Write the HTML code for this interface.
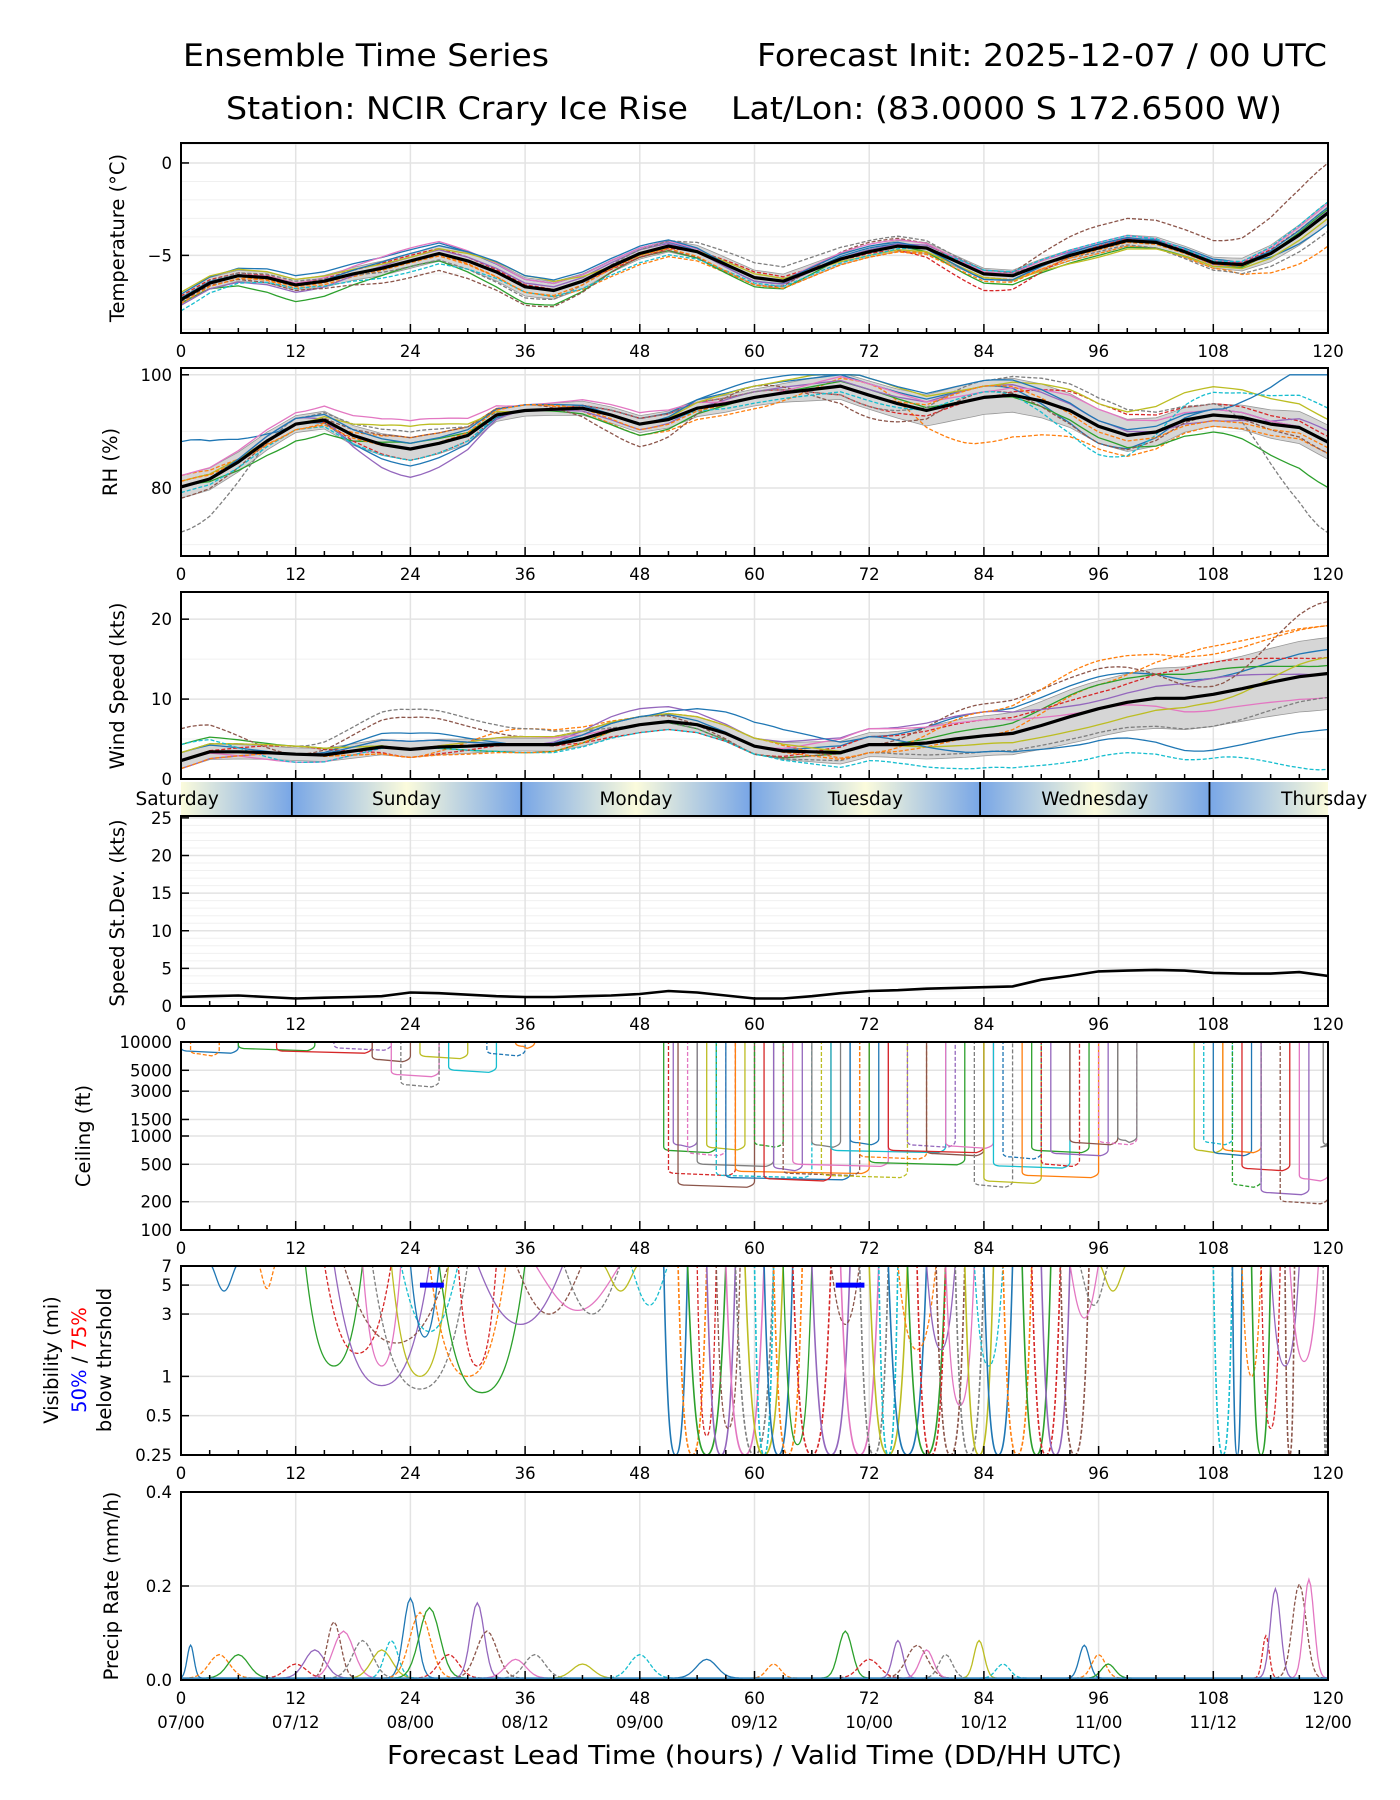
<!DOCTYPE html>
<html><head><meta charset="utf-8"><title>Ensemble Time Series</title>
<style>
html,body{margin:0;padding:0;background:#fff;}
svg{display:block;font-family:"DejaVu Sans","Liberation Sans",sans-serif;}
</style></head>
<body>
<svg id="chart" width="1400" height="1800" viewBox="0 0 1400 1800" xmlns="http://www.w3.org/2000/svg">
<defs>
<linearGradient id="dayGrad" x1="0" x2="1" y1="0" y2="0">
<stop offset="0" stop-color="#78a6e6"/><stop offset="0.5" stop-color="#fbfbdc"/><stop offset="1" stop-color="#78a6e6"/>
</linearGradient>
<linearGradient id="dayGradHalfL" x1="0" x2="1" y1="0" y2="0">
<stop offset="0" stop-color="#fbfbdc"/><stop offset="1" stop-color="#78a6e6"/>
</linearGradient>
<linearGradient id="dayGradHalfR" x1="0" x2="1" y1="0" y2="0">
<stop offset="0" stop-color="#78a6e6"/><stop offset="1" stop-color="#fbfbdc"/>
</linearGradient>
</defs>
<text x="183" y="66" font-size="31" textLength="366" lengthAdjust="spacingAndGlyphs">Ensemble Time Series</text>
<text x="757" y="66" font-size="31" textLength="570" lengthAdjust="spacingAndGlyphs">Forecast Init: 2025-12-07 / 00 UTC</text>
<text x="226" y="119" font-size="31" textLength="462" lengthAdjust="spacingAndGlyphs">Station: NCIR Crary Ice Rise</text>
<text x="731" y="119" font-size="31" textLength="551" lengthAdjust="spacingAndGlyphs">Lat/Lon: (83.0000 S 172.6500 W)</text>
<text x="387" y="1764" font-size="26" textLength="735" lengthAdjust="spacingAndGlyphs">Forecast Lead Time (hours) / Valid Time (DD/HH UTC)</text>
<g id="plots"></g>
</svg>
<script>
// ---------------- DATA ----------------
const hours3 = [0,3,6,9,12,15,18,21,24,27,30,33,36,39,42,45,48,51,54,57,60,63,66,69,72,75,78,81,84,87,90,93,96,99,102,105,108,111,114,117,120];
const hours12 = [0,12,24,36,48,60,72,84,96,108,120];
const tempMean = [-7.4,-6.5,-6.1,-6.2,-6.6,-6.4,-6.0,-5.7,-5.3,-4.9,-5.3,-5.9,-6.7,-6.9,-6.4,-5.6,-4.9,-4.5,-4.8,-5.5,-6.2,-6.4,-5.8,-5.2,-4.8,-4.5,-4.6,-5.3,-6.0,-6.1,-5.5,-5.0,-4.6,-4.2,-4.3,-4.8,-5.4,-5.5,-4.9,-3.9,-2.7];
const tempSpread = [0.3,0.3,0.4,0.5,0.3,0.4,0.3,0.3,0.3,0.3,0.6];
const tempOffsets = [
[0.3,0.5,0.6,0.4,0.3,-0.2,0.2,-0.3,0.1,0.2,-0.6],
[0.1,-0.2,-0.1,-0.3,-0.6,-0.4,-0.3,-0.2,-0.3,-0.3,-1.8],
[-0.2,-0.9,-0.3,-0.9,-0.2,-0.5,0.1,-0.5,-0.4,-0.2,0.2],
[0.2,0.1,0.3,0.1,-0.2,0.3,-0.1,-0.9,0.1,0.1,0.3],
[-0.3,-0.4,0.2,0.2,0.2,-0.2,0.1,0.2,0.2,-0.1,0.1],
[-0.1,-0.3,-0.9,-1.0,-0.2,-0.4,0.5,0.0,1.2,1.2,2.7],
[0.0,0.1,0.7,0.4,0.3,0.0,0.4,0.1,0.3,0.1,0.5],
[0.1,0.2,-0.3,-0.6,0.2,0.8,0.6,0.2,-0.2,-0.4,-1.0],
[0.4,0.3,0.2,0.6,-0.1,0.2,-0.2,-0.2,-0.5,-0.2,-0.3],
[-0.6,-0.2,-0.6,-0.3,-0.5,-0.3,-0.2,0.2,0.3,0.1,0.6],
[0.1,0.0,0.4,0.6,0.4,0.0,0.3,-0.3,0.2,0.0,0.3],
[-0.2,-0.1,0.0,-0.3,-0.1,-0.4,-0.3,-0.4,-0.1,-0.1,0.0]];
const rhMean = [80.2,81.6,84.6,88.3,91.3,92.0,89.3,87.7,86.9,87.9,89.3,92.9,93.7,93.9,94.1,92.9,91.3,92.1,94.1,94.9,96.0,96.8,97.4,98.0,96.4,94.9,93.7,94.9,96.0,96.4,95.4,93.7,90.9,89.3,89.9,92.0,92.9,92.5,91.3,90.7,88.1];
const rhSpread = [2,1.5,2,1,1.5,1.5,2.5,3,3,2,3];
const rhOffsets = [
[8,0,-3,0,1,2,2,2,-3,1,0],
[2,-1,2,1,-2,-2,2,-8,-4,-2,-2],
[0,-3,1,0,-2,0,1,0,-2,-3,-8],
[1,0,-2,0,1,1,-2,0,4,2,1],
[0,1,-5,0,-1,1,1,2,1,-1,2],
[-2,0,2,1,-4,2,-4,1,-3,0,-2],
[2,2,5,1,2,0,2,1,3,1,0],
[-8,1,3,0,1,1,-2,3,5,2,-16],
[1,0,4,0,0,2,3,2,4,5,4],
[-1,-1,-2,0,0,-1,-1,1,-5,4,6],
[0,1,1,1,0,3,3,3,1,1,12],
[1,-1,0,1,-1,0,0,2,-1,-1,-1]];
const windMean = [2.3,3.4,3.4,3.3,3.1,3.0,3.5,4.0,3.7,4.0,4.1,4.3,4.3,4.3,5.0,6.1,6.8,7.2,6.8,5.7,4.1,3.5,3.4,3.3,4.3,4.3,4.5,5.0,5.4,5.7,6.7,7.8,8.8,9.6,10.1,10.1,10.6,11.3,12.1,12.8,13.2];
const windSpread = [1,0.8,1,0.8,1,1,1.5,2.5,3.5,4,4.5];
const windOffsets = [
[1,0,2,0,1,0,1,3,4,2,3],
[0,0,-1,2,1,1,-1,0,3,6,6],
[2,1,0,-1,0,-1,0,1,3,3,1],
[0,1,-1,0,-1,-1,1,2,2,4,2],
[-1,0,1,0,2,1,2,3,1,2,0],
[4,0,4,1,1,-1,0,4,5,1,9],
[0,-1,0,1,0,0,2,2,0,-2,-3],
[1,1,5,2,0,-1,-1,-2,-3,-4,-3],
[1,1,0,1,1,1,0,-1,-2,-1,2],
[2,-1,0,-1,-1,-1,-2,-4,-6,-8,-12],
[0,0,1,0,1,3,1,-2,-4,-7,-7],
[-1,0,-1,-1,0,0,-1,3,6,5,6]];
const stdDev = [1.2,1.3,1.4,1.2,1.0,1.1,1.2,1.3,1.8,1.7,1.5,1.3,1.2,1.2,1.3,1.4,1.6,2.0,1.8,1.4,1.0,1.0,1.3,1.7,2.0,2.1,2.3,2.4,2.5,2.6,3.5,4.0,4.6,4.7,4.8,4.7,4.4,4.3,4.3,4.5,4.0];
const dayNames = ["Saturday","Sunday","Monday","Tuesday","Wednesday","Thursday"];
const dayBoundaries = [-12.4,11.6,35.6,59.6,83.6,107.6,131.6];
const cigStart = [0,1,6,10,16,20,22,23,25,28,32,35, 50.5,51,51.5,52,53,54,55,56,57,58,60,61,62,63,64,66,67,68,70,71,72,74,76,78,80,83,84,85,86,88,89,90,91,93,96,98, 106,107,108,109,110,111,113,115,117,119.5];
const cigEnd   = [6,4,14,20,22,24,27,27,30,33,36,37, 56,58,54,60,57,62,59,66,70,72,63,68,65,71,74,69,76,80,73,78,82,84,81,84,85,87,90,93,90,96,95,94,97,98,100,100, 109,110,112,113,113,116,118,120,120,120];
const cigLevel = [8000,7500,8500,8000,8600,6500,4500,3500,7000,5000,7500,9000, 700,400,800,300,650,500,750,380,360,420,800,350,450,400,500,800,380,700,850,600,520,700,800,650,780,300,330,480,600,380,700,500,650,850,850,900, 700,850,650,700,300,450,250,200,350,800];
const visStart = [3,8,13,15,16,17,19,20,22,23,24,26,27,29,31,35,37,40,44,47, 50.5,52,53,54,55,56,57,58,59,60,61,62,63,64,66,68,69,71,72,73,74,75,76,77,78,79,80,81,82,83,84,86,88,89,90,92,93,94,96, 108,110,111,112,113,114,115.5,116,119.5];
const visEnd   = [6,10,19,22,26,28,23,30,28,29,27,34,36,33,40,42,46,46,48,51, 53,55,57,56,58,58.5,61,62,63,62,64,65,66,68,70,71,73,74,76,75,78,79,80,80,81,82,83,84,85,86,87,89,91,92,93,95,96,97,99, 110,111,113,114,115,117,116.5,119,120];
const visMin   = [4.5,4.7,1.2,1.5,0.85,1.8,1.2,0.8,1.0,2.2,2.0,1.0,0.75,1.2,2.5,3.0,3.2,3.0,4.5,3.5, 0.25,0.25,0.25,0.35,0.25,0.4,0.25,0.25,0.25,0.25,0.25,0.25,0.3,0.25,0.25,2.5,0.25,0.25,0.25,0.25,0.25,1.6,0.25,0.25,1.6,0.25,0.6,0.25,0.25,1.2,0.25,0.25,0.25,0.25,0.25,0.25,2.8,3.5,4.5, 0.25,0.25,1.0,0.25,0.4,1.2,0.25,1.3,0.25];
const visThreshStart = [25,68.5];
const visThreshEnd = [27.5,71.5];
const visThreshValue = [5,5];
const precipCenter = [1,4,6,12,14,16,17,19,21,22,24,25,26,28,31,32,35,37,42,48,55,62,69.5,72,75,77,78,80,83.5,86,94.5,96,97,113.5,114.5,117,118];
const precipWidth  = [1,3,3,3,3,2,3,3,3,2,2,3,3,3,2,3,3,3,3,3,3,2,2,3,1.5,3,2,2,1.5,2,1.5,2,2,1,1.5,2,1.5];
const precipPeak   = [0.07,0.05,0.05,0.03,0.06,0.12,0.1,0.08,0.06,0.08,0.17,0.14,0.15,0.05,0.16,0.1,0.04,0.05,0.03,0.05,0.04,0.03,0.1,0.04,0.08,0.07,0.06,0.05,0.08,0.03,0.07,0.05,0.03,0.09,0.19,0.2,0.21];
const hourTicks = [0,12,24,36,48,60,72,84,96,108,120];
const dateTicks = ["07/00","07/12","08/00","08/12","09/00","09/12","10/00","10/12","11/00","11/12","12/00"];

// ---------------- RENDER ----------------
const NS = "http://www.w3.org/2000/svg";
const COLORS = ["#1f77b4","#ff7f0e","#2ca02c","#d62728","#9467bd","#8c564b","#e377c2","#7f7f7f","#bcbd22","#17becf"];
const root = document.getElementById("plots");
const X0 = 181, X1 = 1328;
const xs = h => X0 + h * (X1 - X0) / 120;
function mk(tag, attrs, parent) {
  const e = document.createElementNS(NS, tag);
  for (const k in attrs) e.setAttribute(k, attrs[k]);
  (parent || root).appendChild(e);
  return e;
}
function interp(xsArr, ysArr, x) {
  if (x <= xsArr[0]) return ysArr[0];
  for (let i = 1; i < xsArr.length; i++) {
    if (x <= xsArr[i]) {
      const t = (x - xsArr[i-1]) / (xsArr[i] - xsArr[i-1]);
      const s = t * t * (3 - 2 * t);
      return ysArr[i-1] + (ysArr[i] - ysArr[i-1]) * (xsArr === hours12 ? s : t);
    }
  }
  return ysArr[ysArr.length - 1];
}
function linY(top, bot, lo, hi) { return v => bot - (v - lo) / (hi - lo) * (bot - top); }
function logY(top, bot, lo, hi) { return v => bot - (Math.log10(v) - Math.log10(lo)) / (Math.log10(hi) - Math.log10(lo)) * (bot - top); }

let clipN = 0;
function panel(name, top, bot, ys, yTicks, yLabels, minorY, noXLabels) {
  const g = mk("g", {});
  
  
  const cid = "clip" + (clipN++);
  const cp = mk("clipPath", {id: cid}, g);
  mk("rect", {x: X0, y: top, width: X1 - X0, height: bot - top}, cp);
  (minorY || []).forEach(v => {
    const ln = mk("line", {x1: X0, x2: X1, y1: ys(v), y2: ys(v), stroke: "#f0f0f0", "stroke-width": 1}, g);
    
    
  });
  hourTicks.forEach(h => {
    const ln = mk("line", {x1: xs(h), x2: xs(h), y1: top, y2: bot, stroke: "#e3e3e3", "stroke-width": 1.5}, g);
    
    
  });
  yTicks.forEach((v, i) => {
    const y = ys(v);
    const ln = mk("line", {x1: X0, x2: X1, y1: y, y2: y, stroke: "#e3e3e3", "stroke-width": 1.5}, g);
    
    
    const tk = mk("line", {x1: X0, x2: X0 + 8, y1: y, y2: y, stroke: "#000", "stroke-width": 1.5}, g);
    
    
    const t = mk("text", {x: X0 - 9, y: y + 6, "font-size": 16.5, "text-anchor": "end"}, g);
    t.textContent = yLabels[i];
    
    
  });
  const data = mk("g", {"clip-path": "url(#" + cid + ")"}, g);
  
  
  for (let h = 0; h <= 120; h += 3) {
    const major = h % 12 === 0;
    const tk = mk("line", {x1: xs(h), x2: xs(h), y1: bot, y2: bot - (major ? 9 : 5), stroke: "#000", "stroke-width": 1.5}, g);
    
    
  }
  if (!noXLabels) {
    hourTicks.forEach(h => {
      const t = mk("text", {x: xs(h), y: bot + 24, "font-size": 16.5, "text-anchor": "middle"}, g);
      t.textContent = String(h);
      
      
    });
  }
  const fr = mk("rect", {x: X0, y: top, width: X1 - X0, height: bot - top, fill: "none", stroke: "#000", "stroke-width": 2}, g);
  
  
  return {g, data};
}
function ylabel(g, name, x, cy, text, size) {
  const t = mk("text", {x: 0, y: 0, "font-size": size || 19.5, "text-anchor": "middle", transform: "translate(" + x + "," + cy + ") rotate(-90)"}, g);
  t.textContent = text;
  
  
  return t;
}
function ensemblePanel(name, top, bot, ys, mean, spread, offsets, clampLo, clampHi) {
  return function (p) {
    let up = "", dn = "";
    for (let h = 0; h <= 120; h += 1) {
      const m = interp(hours3, mean, h), s = interp(hours12, spread, h);
      up += (h ? "L" : "M") + xs(h).toFixed(1) + "," + ys(Math.min(clampHi, m + s)).toFixed(1);
    }
    for (let h = 120; h >= 0; h -= 1) {
      const m = interp(hours3, mean, h), s = interp(hours12, spread, h);
      dn += "L" + xs(h).toFixed(1) + "," + ys(Math.max(clampLo, m - s)).toFixed(1);
    }
    const band = mk("path", {d: up + dn + "Z", fill: "#d6d6d6", stroke: "#999", "stroke-width": 0.8}, p.data);
    
    
    offsets.forEach((off, i) => {
      let d = "";
      for (let h = 0; h <= 120; h += 1) {
        const v = Math.max(clampLo, Math.min(clampHi, interp(hours3, mean, h) + interp(hours12, off, h)));
        d += (h ? "L" : "M") + xs(h).toFixed(1) + "," + ys(v).toFixed(1);
      }
      const ln = mk("path", {d, fill: "none", stroke: COLORS[i % 10], "stroke-width": 1.3, "stroke-dasharray": i % 2 ? "4,2" : "none"}, p.data);
      
      
    });
    let d = "";
    hours3.forEach((h, i) => { d += (i ? "L" : "M") + xs(h).toFixed(1) + "," + ys(mean[i]).toFixed(1); });
    const ml = mk("path", {d, fill: "none", stroke: "#000", "stroke-width": 3.2, "stroke-linejoin": "round"}, p.data);
    
    
  };
}

// Temperature
{
  const top = 143, bot = 333, ys = linY(top, bot, -9.2, 1.08);
  const minor = []; for (let v = -9; v <= 1; v++) minor.push(v);
  const p = panel("temperature", top, bot, ys, [0, -5], ["0", "\u22125"], minor);
  ensemblePanel("temperature", top, bot, ys, tempMean, tempSpread, tempOffsets, -99, 99)(p);
  ylabel(p.g, "temperature", 124, 238, "Temperature (\u00b0C)");
}
// RH
{
  const top = 368, bot = 556, ys = linY(top, bot, 68, 101.2);
  const p = panel("rh", top, bot, ys, [80, 100], ["80", "100"], [70, 90]);
  ensemblePanel("rh", top, bot, ys, rhMean, rhSpread, rhOffsets, 0, 100)(p);
  ylabel(p.g, "rh", 117, 462, "RH (%)");
}
// Wind
{
  const top = 592, bot = 779, ys = linY(top, bot, 0, 23.4);
  const p = panel("wind", top, bot, ys, [0, 10, 20], ["0", "10", "20"], [5, 15], true);
  ensemblePanel("wind", top, bot, ys, windMean, windSpread, windOffsets, 0, 99)(p);
  ylabel(p.g, "wind", 124, 686, "Wind Speed (kts)");
}
// Day band
{
  const g = mk("g", {});
  
  
  const top = 782, bot = 816;
  for (let i = 0; i < dayNames.length; i++) {
    const a = Math.max(0, dayBoundaries[i]), b = Math.min(120, dayBoundaries[i + 1]);
    let fill = "url(#dayGrad)";
    if (dayBoundaries[i] < 0) fill = "url(#dayGradHalfL)";
    if (dayBoundaries[i + 1] > 120) fill = "url(#dayGradHalfR)";
    const r = mk("rect", {x: xs(a), y: top, width: xs(b) - xs(a), height: bot - top, fill}, g);
    
    
  }
  for (let i = 1; i < dayBoundaries.length - 1; i++) {
    const ln = mk("line", {x1: xs(dayBoundaries[i]), x2: xs(dayBoundaries[i]), y1: top, y2: bot, stroke: "#000", "stroke-width": 1.8}, g);
    
    
  }
  for (let i = 0; i < dayNames.length; i++) {
    const c = (dayBoundaries[i] + dayBoundaries[i + 1]) / 2;
    const t = mk("text", {x: xs(c), y: top + 23, "font-size": 18.5, "text-anchor": "middle"}, g);
    t.textContent = dayNames[i];
    
    
  }
}
// Std Dev
{
  const top = 816, bot = 1006, ys = linY(top, bot, 0, 25.25);
  const minor = []; for (let v = 1; v <= 25; v++) minor.push(v);
  const p = panel("stddev", top, bot, ys, [0, 5, 10, 15, 20, 25], ["0", "5", "10", "15", "20", "25"], minor);
  let d = "";
  hours3.forEach((h, i) => { d += (i ? "L" : "M") + xs(h).toFixed(1) + "," + ys(stdDev[i]).toFixed(1); });
  const ml = mk("path", {d, fill: "none", stroke: "#000", "stroke-width": 2.6}, p.data);
  
  
  ylabel(p.g, "stddev", 124, 913, "Speed St.Dev. (kts)");
}
// Ceiling
{
  const top = 1042, bot = 1230, ys = logY(top, bot, 100, 10000);
  const p = panel("ceiling", top, bot, ys, [100, 200, 500, 1000, 1500, 3000, 5000, 10000], ["100", "200", "500", "1000", "1500", "3000", "5000", "10000"], []);
  cigStart.forEach((s, i) => {
    const e = cigEnd[i], lv = cigLevel[i];
    const ty = top - 2;
    const d = "M" + xs(s) + "," + ty + "L" + xs(s) + "," + ys(lv * 1.1) + "Q" + xs(s) + "," + ys(lv) + " " + xs(s + 0.8) + "," + ys(lv) +
      "L" + xs(e - 0.8) + "," + ys(lv * 0.95) + "Q" + xs(e) + "," + ys(lv) + " " + xs(e) + "," + ys(lv * 1.1) + "L" + xs(e) + "," + ty;
    const ln = mk("path", {d, fill: "none", stroke: COLORS[i % 10], "stroke-width": 1.3, "stroke-dasharray": i % 3 === 1 ? "4,2" : "none"}, p.data);
    
    
  });
  ylabel(p.g, "ceiling", 90, 1136, "Ceiling (ft)");
}
// Visibility
{
  const top = 1266, bot = 1455, ys = logY(top, bot, 0.25, 7);
  const p = panel("visibility", top, bot, ys, [0.25, 0.5, 1, 3, 5, 7], ["0.25", "0.5", "1", "3", "5", "7"], []);
  visStart.forEach((s, i) => {
    const e = visEnd[i], mn = visMin[i], m = (s + e) / 2;
    const d = "M" + xs(s) + "," + (top - 2) + "C" + xs(s + (e - s) * 0.15) + "," + ys(mn * 1.6) + " " + xs(m - (e - s) * 0.2) + "," + ys(mn) + " " + xs(m) + "," + ys(mn) +
      "C" + xs(m + (e - s) * 0.2) + "," + ys(mn) + " " + xs(e - (e - s) * 0.15) + "," + ys(mn * 1.6) + " " + xs(e) + "," + (top - 2);
    const ln = mk("path", {d, fill: "none", stroke: COLORS[i % 10], "stroke-width": mn <= 0.25 ? 1.6 : 1.3, "stroke-dasharray": i % 2 ? "4,2" : "none"}, p.data);
    
    
  });
  visThreshStart.forEach((s, i) => {
    const ln = mk("line", {x1: xs(s), x2: xs(visThreshEnd[i]), y1: ys(visThreshValue[i]), y2: ys(visThreshValue[i]), stroke: "#0000ff", "stroke-width": 5}, p.data);
    
    
  });
  const t1 = mk("text", {x: 0, y: 0, "font-size": 19.5, "text-anchor": "middle", transform: "translate(58,1360) rotate(-90)"}, p.g);
  t1.textContent = "Visibility (mi)";
  
  
  const t2 = mk("text", {x: 0, y: 0, "font-size": 19.5, "text-anchor": "middle", transform: "translate(86,1360) rotate(-90)"}, p.g);
  
  
  const a = mk("tspan", {fill: "#0000ff"}, t2); a.textContent = "50%";
  const b = mk("tspan", {fill: "#000"}, t2); b.textContent = " / ";
  const c = mk("tspan", {fill: "#ff0000"}, t2); c.textContent = "75%";
  const t3 = mk("text", {x: 0, y: 0, "font-size": 19.5, "text-anchor": "middle", transform: "translate(111,1360) rotate(-90)"}, p.g);
  t3.textContent = "below thrshold";
  
  
}
// Precip
{
  const top = 1492, bot = 1680, ys = linY(top, bot, 0, 0.4);
  const p = panel("precip", top, bot, ys, [0, 0.2, 0.4], ["0.0", "0.2", "0.4"], []);
  precipCenter.forEach((c, i) => {
    const w = precipWidth[i], pk = precipPeak[i];
    let d = "";
    for (let k = -2.5; k <= 2.5001; k += 0.25) {
      const h = c + k * w / 2;
      const v = 0.004 + pk * Math.exp(-k * k);
      d += (d ? "L" : "M") + xs(h).toFixed(1) + "," + ys(v).toFixed(1);
    }
    const ln = mk("path", {d, fill: "none", stroke: COLORS[i % 10], "stroke-width": 1.3, "stroke-dasharray": i % 2 ? "4,2" : "none"}, p.data);
    
    
  });
  const base = mk("line", {x1: X0, x2: X1, y1: ys(0.004), y2: ys(0.004), stroke: "#1f77b4", "stroke-width": 1.5}, p.data);
  
  
  hourTicks.forEach((h, i) => {
    const t = mk("text", {x: xs(h), y: bot + 48, "font-size": 16.5, "text-anchor": "middle"}, p.g);
    t.textContent = dateTicks[i];
    
    
  });
  ylabel(p.g, "precip", 118, 1586, "Precip Rate (mm/h)");
}
</script>
</body></html>
